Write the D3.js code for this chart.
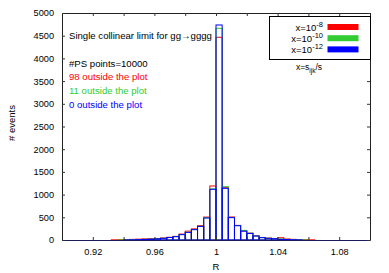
<!DOCTYPE html>
<html>
<head>
<meta charset="utf-8">
<script src="https://cdn.jsdelivr.net/npm/d3@7"></script>
<style>
  body { margin: 0; background: #fff; }
  svg { display: block; font-family: "Liberation Sans", Arial, sans-serif; }
</style>
</head>
<body>
<svg id="chart" width="389" height="273"></svg>
<script>
/* DATA */
// lower edges of the histogram bins (bin width 0.004)
const binLo = [0.932, 0.936, 0.940, 0.944, 0.948, 0.952, 0.956, 0.960, 0.964, 0.968,
               0.972, 0.976, 0.980, 0.984, 0.988, 0.992, 0.996, 1.000, 1.004, 1.008,
               1.012, 1.016, 1.020, 1.024, 1.028, 1.032, 1.036, 1.040, 1.044, 1.048,
               1.052, 1.056, 1.060];
const binWidth = 0.004;

const countsX8  = [4, 8, 10, 14, 18, 24, 28, 34, 44, 60, 80, 130, 195, 245, 315, 505, 1190, 4465,
                   1160, 507, 322, 200, 150, 92, 56, 42, 32, 50, 22, 14, 10, 8, 4];
const countsX10 = [0, 2, 4, 6, 10, 14, 20, 28, 38, 55, 74, 120, 170, 230, 302, 490, 1125, 4663,
                   1174, 496, 318, 212, 150, 90, 52, 38, 30, 22, 12, 6, 3, 2, 0];
const countsX12 = [0, 0, 2, 4, 8, 12, 18, 26, 37, 54, 73, 118, 168, 228, 300, 485, 1117, 4736,
                   1138, 492, 315, 195, 145, 88, 51, 37, 29, 15, 10, 5, 2, 0, 0];

const seriesNames  = ["x8", "x10", "x12"];
const seriesColors = ["#ff0000", "#33cc33", "#0000ff"];
const seriesExp    = ["-8", "-10", "-12"];

const xTicks = [0.90, 0.92, 0.94, 0.96, 0.98, 1.00, 1.02, 1.04, 1.06, 1.08, 1.10];
const xLabels = [0.92, 0.96, 1.00, 1.04, 1.08];
const yTicks = [0, 500, 1000, 1500, 2000, 2500, 3000, 3500, 4000, 4500, 5000];

const infoLines = [
  { text: "#PS points=10000", color: "#000" },
  { text: "98 outside the plot", color: "#ff0000" },
  { text: "11 outside the plot", color: "#33cc33" },
  { text: "0 outside the plot", color: "#0000ff" }
];

/* SETUP */
const svg = d3.select("#chart");
const plotL = 62, plotR = 370, plotT = 13, plotB = 240;

const x = d3.scaleLinear().domain([0.9, 1.1]).range([plotL, plotR]);
const y = d3.scaleLinear().domain([0, 5000]).range([plotB, plotT]);

const allCounts = [countsX8, countsX10, countsX12];

// histogram boxes, red first so blue ends up on top
allCounts.forEach((counts, s) => {
  svg.append("g")
    .selectAll("rect")
    .data(binLo.map((lo, i) => ({ lo: lo, v: counts[i] })).filter(d => d.v > 0))
    .join("rect")
    .attr("x", d => x(d.lo))
    .attr("width", d => x(d.lo + binWidth) - x(d.lo))
    .attr("y", d => y(d.v))
    .attr("height", d => y(0) - y(d.v))
    .attr("fill", "none")
    .attr("stroke", seriesColors[s])
    .attr("stroke-width", 1);
});

/* AXES */
const fmtX = d => xLabels.some(l => Math.abs(l - d) < 1e-9) ? String(+d.toFixed(2)) : "";

const bottomAxis = svg.append("g")
  .attr("transform", `translate(0,${plotB})`)
  .call(d3.axisBottom(x).tickValues(xTicks).tickFormat(fmtX).tickSize(-3).tickSizeOuter(0).tickPadding(8));

svg.append("g")
  .attr("transform", `translate(0,${plotT})`)
  .call(d3.axisTop(x).tickValues(xTicks).tickFormat("").tickSize(-3).tickSizeOuter(0));

svg.append("g")
  .attr("transform", `translate(${plotL},0)`)
  .call(d3.axisLeft(y).tickValues(yTicks).tickFormat(d3.format("d")).tickSize(-3).tickSizeOuter(0).tickPadding(8));

svg.append("g")
  .attr("transform", `translate(${plotR},0)`)
  .call(d3.axisRight(y).tickValues(yTicks).tickFormat("").tickSize(-3).tickSizeOuter(0));

svg.selectAll(".domain").attr("stroke", "#222");
svg.selectAll(".tick line").attr("stroke", "#333");
svg.selectAll(".tick text").attr("font-size", 9.2).attr("font-family", "Liberation Sans, Arial, sans-serif").attr("fill", "#000");
bottomAxis.select(".domain").attr("stroke", "#1c1c5a");

// axis titles
svg.append("text")
  .attr("x", 216).attr("y", 270)
  .attr("text-anchor", "middle")
  .attr("font-size", 9.5)
  .text("R");

svg.append("text")
  .attr("transform", "translate(15,123) rotate(-90)")
  .attr("text-anchor", "middle")
  .attr("font-size", 9.5)
  .text("# events");

/* TEXT IN THE PLOT */
svg.append("text")
  .attr("x", 69).attr("y", 38.5)
  .attr("font-size", 9.6)
  .text("Single collinear limit for gg\u2192gggg");

svg.append("g")
  .selectAll("text")
  .data(infoLines)
  .join("text")
  .attr("x", 69)
  .attr("y", (d, i) => 66.5 + i * 13.7)
  .attr("font-size", 9.6)
  .attr("fill", d => d.color)
  .text(d => d.text);

/* LEGEND */
const legend = svg.append("g");
legend.append("rect")
  .attr("x", 269.5).attr("y", 16.5)
  .attr("width", 101).attr("height", 43)
  .attr("fill", "#fff")
  .attr("stroke", "#000");

seriesNames.forEach((name, i) => {
  const cy = 27 + i * 11.2;
  const t = legend.append("text")
    .attr("x", 323).attr("y", cy + 4)
    .attr("text-anchor", "end")
    .attr("font-size", 9.5);
  t.append("tspan").text("x=10");
  t.append("tspan").attr("dy", -4).attr("font-size", 7.5).text(seriesExp[i]);
  legend.append("rect")
    .attr("x", 327.5).attr("y", cy - 3)
    .attr("width", 31).attr("height", 6)
    .attr("fill", seriesColors[i]);
});

const sub = svg.append("text")
  .attr("x", 309).attr("y", 70)
  .attr("text-anchor", "middle")
  .attr("font-size", 8.5);
sub.append("tspan").text("x=s");
sub.append("tspan").attr("dy", 2.5).attr("font-size", 6.5).text("ijk");
sub.append("tspan").attr("dy", -2.5).text("/s");
</script>
</body>
</html>
